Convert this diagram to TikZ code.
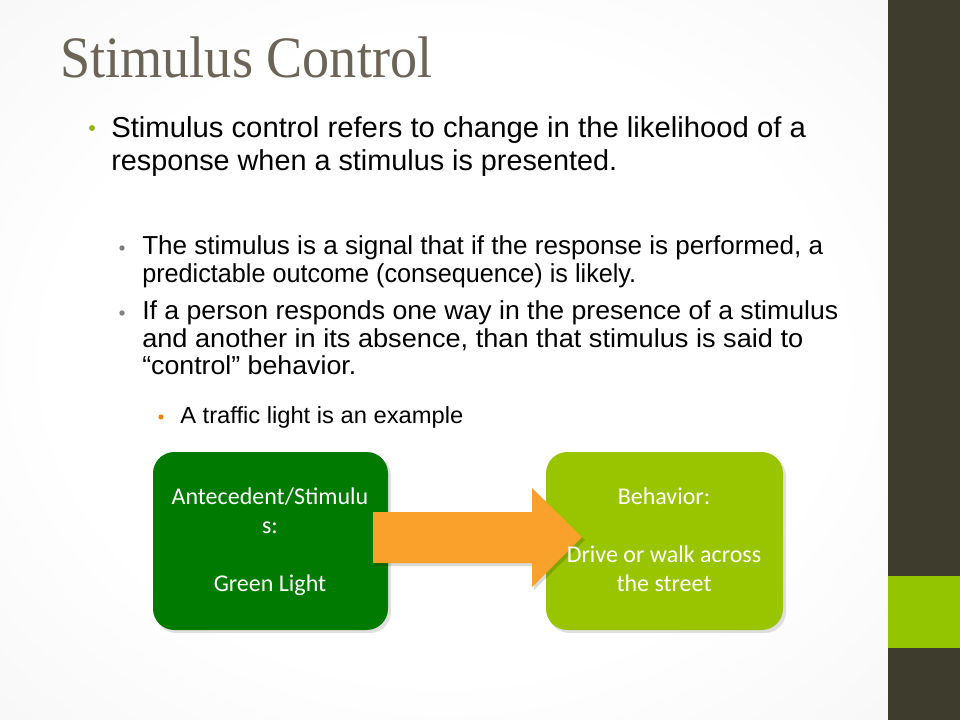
\documentclass[tikz,border=0pt]{standalone}
\usepackage{fontspec}
\setmainfont{Liberation Sans}
\newfontfamily\calfont{Carlito}
\newfontfamily\titlefont{Liberation Serif}
\usepackage{graphicx}
\definecolor{titlecol}{HTML}{6B6557}
\definecolor{barcol}{HTML}{3E3D2D}
\definecolor{limecol}{HTML}{94C600}
\definecolor{dkgreen}{HTML}{007A00}
\definecolor{boxlime}{HTML}{99C400}
\definecolor{arrowcol}{HTML}{F9A12A}
\definecolor{bulgreen}{HTML}{8DB80A}
\definecolor{bulgray}{HTML}{7F7F7F}
\definecolor{bulorange}{HTML}{F07F09}
\pgfdeclareradialshading{bgshade}{\pgfpoint{0bp}{0bp}}{color(0bp)=(white); color(22bp)=(white); color(50bp)=(black!6); color(72bp)=(black!12)}
\tikzset{
  line/.style={anchor=base west, inner sep=0pt, text=black},
  boxtext/.style={anchor=base, inner sep=0pt, text=white, font=\calfont\fontsize{18}{21.6}\selectfont},
  blockbox/.style={rounded corners=16pt, minimum height=133.5pt, inner sep=0pt},
  bul/.style={circle, inner sep=0pt, minimum size=4pt},
}
\begin{document}
\begin{tikzpicture}[x=0.75pt,y=-0.75pt]
\useasboundingbox (0,0) rectangle (960,720);
\shade[shading=bgshade] (0,0) rectangle (888,720);
\fill[barcol] (888,0) rectangle (960,720);
\fill[limecol] (888,576) rectangle (960,648);

% title
\node[anchor=base west, inner sep=0pt, text=titlecol] (title) at (60,78)
  {\resizebox{279pt}{\height}{\titlefont\fontsize{44}{44}\selectfont Stimulus Control}};

% level 1
\node[bul, fill=bulgreen, minimum size=4.5pt] (b1) at (92,128) {};
\node[line] (l1a) at (111,138) {\resizebox{521pt}{\height}{\fontsize{21.6}{24}\selectfont Stimulus control refers to change in the likelihood of a}};
\node[line] (l1b) at (111,171) {\fontsize{21.6}{24}\selectfont response when a stimulus is presented.};

% level 2
\node[bul, fill=bulgray] (b2) at (122,248) {};
\node[line] (l2a) at (142,255) {\resizebox{510.75pt}{\height}{\fontsize{19.5}{24}\selectfont The stimulus is a signal that if the response is performed, a}};
\node[line] (l2b) at (142,283) {\resizebox{370.5pt}{\height}{\fontsize{19.5}{24}\selectfont predictable outcome (consequence) is likely.}};
\node[bul, fill=bulgray] (b3) at (122,313) {};
\node[line] (l2c) at (142,320) {\resizebox{522pt}{\height}{\fontsize{19.5}{24}\selectfont If a person responds one way in the presence of a stimulus}};
\node[line] (l2d) at (142,347) {\resizebox{495.75pt}{\height}{\fontsize{19.5}{24}\selectfont and another in its absence, than that stimulus is said to}};
\node[line] (l2e) at (142,374) {\resizebox{160.5pt}{\height}{\fontsize{19.5}{24}\selectfont “control” behavior.}};

% level 3
\node[bul, fill=bulorange, minimum size=3.8pt] (b4) at (161,417) {};
\node[line] (l3a) at (180,423) {\resizebox{212.25pt}{\height}{\fontsize{17.5}{20}\selectfont A traffic light is an example}};

% boxes (shadows)
\fill[black, opacity=0.12, rounded corners=16pt] (155,455) rectangle (391,633);
\fill[black, opacity=0.12, rounded corners=16pt] (548,455) rectangle (786,633);
\node[blockbox, fill=dkgreen, minimum width=176.25pt] (lbox) at (270.5,541) {};
\node[blockbox, fill=boxlime, minimum width=177.75pt] (rbox) at (664.5,541) {};

% block arrow
\fill[black, opacity=0.15] (375,515) -- (534,515) -- (534,491) -- (585,540) -- (534,590) -- (534,566) -- (375,566) -- cycle;
\fill[arrowcol] (373,512) -- (532,512) -- (532,488) -- (582,537) -- (532,587) -- (532,563) -- (373,563) -- cycle;

% box texts
\node[boxtext] (lt1) at (270,504) {Antecedent/Stimulu};
\node[boxtext] (lt2) at (270,533) {s:};
\node[boxtext] (lt3) at (270,591) {Green Light};
\node[boxtext] (rt1) at (664,504) {Behavior:};
\node[boxtext] (rt2) at (664,562) {Drive or walk across};
\node[boxtext] (rt3) at (664,591) {the street};
\end{tikzpicture}
\end{document}
